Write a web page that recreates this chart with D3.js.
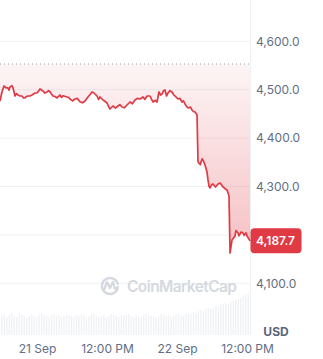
<!DOCTYPE html>
<html>
<head>
<meta charset="utf-8">
<script src="https://cdn.jsdelivr.net/npm/d3@7"></script>
<style>
  html, body { margin: 0; padding: 0; background: #fff; }
  svg { display: block; font-family: Inter, "Noto Sans", sans-serif; }
</style>
</head>
<body>
<svg id="chart" width="323" height="359"></svg>
<script>
// hours after 21 Sep 00:00 (local) and price in USD
const hours = [
  -6.34, -6.0, -5.66, -5.31, -4.97, -4.8, -4.63, -4.29, -4.11, -3.77,
  -3.5, -3.26, -2.91, -2.57, -2.3, -2.06, -1.8, -1.54, -1.2, -0.86,
  -0.34, 0, 0.25, 0.51, 1.03, 1.35, 1.71, 2.0, 2.23, 2.74,
  3.1, 3.43, 3.94, 4.2, 4.46, 5.14, 5.4, 5.66, 6.1, 6.51,
  6.9, 7.37, 7.8, 8.23, 8.74, 9.1, 9.43, 9.77, 10.29, 10.55,
  10.8, 11.31, 11.65, 12, 12.25, 12.51, 13.03, 13.45, 13.89, 14.2,
  14.57, 15.0, 15.43, 15.94, 16.35, 16.8, 17.2, 17.66, 18.17, 18.5,
  18.86, 19.37, 19.6, 19.89, 20.25, 20.57, 20.91, 21.2, 21.43, 21.7,
  21.94, 22.2, 22.46, 22.8, 23.14, 23.4, 23.66, 24.17, 24.5, 24.86,
  25.1, 25.37, 25.6, 25.89, 26.3, 26.57, 26.8, 27.09, 27.43, 27.6,
  28.0, 28.11, 28.3, 28.46, 28.8, 29.14, 29.31, 29.5, 29.66, 29.9,
  30.17, 30.6, 31.03, 31.4, 31.89, 32.2, 32.57, 32.91, 33.09, 33.43,
  33.94, 34.1, 34.46, 34.6, 34.8, 35.0, 35.31, 35.5, 35.66, 35.85,
  36, 36.25, 36.51
]
const prices = [
  4476.7, 4495.3, 4507.7, 4503.6, 4503.6, 4499, 4505.6, 4508.3, 4503.6, 4487,
  4492, 4489, 4487, 4487, 4483, 4482.9, 4486, 4487, 4487, 4489,
  4493.2, 4493.2, 4497, 4501.5, 4497.3, 4493, 4495.3, 4498, 4495.3, 4487,
  4486, 4482.9, 4489, 4484, 4487.6, 4484.9, 4484, 4480.8, 4477, 4480.8,
  4482, 4475.2, 4473, 4476.7, 4484.9, 4490, 4495.3, 4493.2, 4487, 4480,
  4484.9, 4478.7, 4476, 4472.5, 4466, 4460.1, 4466.3, 4462, 4466.3, 4469,
  4464.3, 4463, 4468.4, 4474.6, 4471, 4478.7, 4482, 4480.8, 4484.9, 4480,
  4487, 4487, 4481, 4474.6, 4478, 4474.6, 4495.3, 4489, 4491.1, 4498,
  4499.4, 4487, 4493.2, 4498, 4495.3, 4490, 4487, 4480.8, 4482, 4474.6,
  4477, 4470.5, 4466, 4462.2, 4464, 4458.1, 4455, 4453.9, 4447.7, 4350.6,
  4345, 4350.6, 4357, 4354.8, 4344.4, 4330, 4313.5, 4300, 4297, 4303,
  4305.2, 4299, 4305.2, 4307, 4299, 4296, 4292.8, 4280.4, 4162.6, 4189.5,
  4197.7, 4209, 4203.9, 4198, 4201.9, 4206, 4203.9, 4199, 4201.9, 4204,
  4197.7, 4193, 4187.5
]
const lastPrice = 4187.7
const openPrice = 4553.1

// trading volume (arbitrary units), one bar per slice of the range
const volumes = [
  19, 21, 18, 20, 22, 19, 18, 21, 20, 19, 17, 20, 21, 19, 18, 20, 22, 20, 19, 18,
  20, 21, 19, 20, 18, 19, 21, 20, 19, 18, 20, 19, 21, 20, 18, 19, 20, 21, 19, 18,
  19, 20, 18, 19, 21, 20, 19, 18, 20, 19, 20, 21, 19, 18, 20, 19, 18, 20, 21, 19,
  20, 19, 18, 19, 21, 20, 19, 20, 18, 19, 20, 21, 20, 19, 21, 22, 21, 23, 22, 24,
  25, 24, 26, 27, 26, 28, 29, 28, 30, 31, 32, 31, 33, 34, 35, 36, 37, 39, 40, 42
]

const priceTicks = [4100, 4200, 4300, 4400, 4500, 4600]
const timeTicks = [0, 12, 24, 36]
const timeLabels = ['21 Sep', '12:00 PM', '22 Sep', '12:00 PM']

const red = '#e03a45'
const svg = d3.select('#chart')
const plotRight = 250

const t0 = new Date(2025, 8, 21, 0, 0)
const toDate = h => new Date(t0.getTime() + h * 3600e3)
const data = hours.map((h, i) => ({ t: toDate(h), p: prices[i] }))

let x = d3.scaleTime()
  .domain([toDate(-6.34), toDate(36.51)])
  .range([0, plotRight])
let y = d3.scaleLinear()
  .domain([4100, 4600])
  .range([283.3, 41.3])

// gridlines
svg.append('g')
  .selectAll('line')
  .data(priceTicks)
  .join('line')
    .attr('x1', 0)
    .attr('x2', plotRight)
    .attr('y1', d => y(d))
    .attr('y2', d => y(d))
    .attr('stroke', '#eff2f5')

// volume bars
let vx = d3.scaleBand().domain(d3.range(volumes.length)).range([0, plotRight]).padding(0.45)
let vy = d3.scaleLinear().domain([0, 42]).range([335, 293])
svg.append('g')
  .selectAll('rect')
  .data(volumes)
  .join('rect')
    .attr('x', (d, i) => vx(i))
    .attr('width', vx.bandwidth())
    .attr('y', d => vy(d))
    .attr('height', d => vy(0) - vy(d))
    .attr('fill', '#f0f2f5')

// plot border on the right
svg.append('line')
  .attr('x1', plotRight + 0.5).attr('x2', plotRight + 0.5)
  .attr('y1', 0).attr('y2', 335)
  .attr('stroke', '#eff2f5')

// fill between price line and the opening baseline
let grad = svg.append('defs').append('linearGradient')
  .attr('id', 'fillGrad')
  .attr('gradientUnits', 'userSpaceOnUse')
  .attr('x1', 0).attr('x2', 0)
  .attr('y1', y(openPrice)).attr('y2', y(d3.min(prices)))
grad.append('stop').attr('offset', 0).attr('stop-color', red).attr('stop-opacity', 0.05)
grad.append('stop').attr('offset', 1).attr('stop-color', red).attr('stop-opacity', 0.32)

svg.append('path')
  .datum(data)
  .attr('fill', 'url(#fillGrad)')
  .attr('d', d3.area()
    .x(d => x(d.t))
    .y0(y(openPrice))
    .y1(d => y(d.p)))

// baseline (opening price)
svg.append('line')
  .attr('x1', 0).attr('x2', plotRight)
  .attr('y1', y(openPrice)).attr('y2', y(openPrice))
  .attr('stroke', '#9aa3b2')
  .attr('stroke-width', 1)
  .attr('stroke-dasharray', '1 3')

// watermark
let wm = svg.append('g').attr('fill', 'none').attr('stroke', '#d5d9df')
wm.append('path')
  .attr('stroke-width', 2.4)
  .attr('d', d3.arc()({ innerRadius: 8, outerRadius: 8, startAngle: 0.55 * Math.PI, endAngle: 2.45 * Math.PI }))
  .attr('transform', 'translate(110,286)')
wm.append('path')
  .attr('stroke-width', 2.2)
  .attr('stroke-linejoin', 'round')
  .attr('stroke-linecap', 'round')
  .attr('d', 'M104,290 L107,282 L110,288 L113,282 L115,289 L118,287')
svg.append('text')
  .attr('x', 127)
  .attr('y', 292)
  .attr('font-size', 15.5)
  .attr('font-weight', 600)
  .attr('fill', '#d5d9df')
  .attr('textLength', 110)
  .text('CoinMarketCap')

// price line
svg.append('path')
  .datum(data)
  .attr('fill', 'none')
  .attr('stroke', red)
  .attr('stroke-width', 1.7)
  .attr('stroke-linejoin', 'round')
  .attr('d', d3.line().x(d => x(d.t)).y(d => y(d.p)))

// y labels (the 4,200 one sits under the price badge)
let fmt = d3.format(',.1f')
svg.append('g')
  .selectAll('text')
  .data(priceTicks.filter(d => Math.abs(d - lastPrice) > 30))
  .join('text')
    .attr('x', 256)
    .attr('y', d => y(d))
    .attr('dy', '0.35em')
    .attr('font-size', 12)
    .attr('fill', '#616e85')
    .text(d => fmt(d))

// current price badge
let badge = svg.append('g').attr('transform', `translate(250,${y(lastPrice)})`)
badge.append('rect')
  .attr('x', 0.5).attr('y', -12.5)
  .attr('width', 51).attr('height', 25)
  .attr('rx', 4)
  .attr('fill', red)
badge.append('text')
  .attr('x', 6)
  .attr('dy', '0.36em')
  .attr('font-size', 12)
  .attr('font-weight', 600)
  .attr('fill', '#fff')
  .text(fmt(lastPrice))

// currency
svg.append('text')
  .attr('x', 276)
  .attr('y', 332)
  .attr('dy', '0.35em')
  .attr('text-anchor', 'middle')
  .attr('font-size', 12)
  .attr('font-weight', 700)
  .attr('fill', '#58667e')
  .text('USD')

// time axis
let xAxis = d3.axisBottom(x)
  .tickValues(timeTicks.map(toDate))
  .tickFormat((d, i) => timeLabels[i])
  .tickSize(0)
  .tickPadding(0)
let ax = svg.append('g')
  .attr('transform', 'translate(0,344)')
  .call(xAxis)
ax.select('.domain').remove()
ax.selectAll('text')
  .attr('font-family', 'Inter, "Noto Sans", sans-serif')
  .attr('font-size', 12)
  .attr('fill', '#616e85')
</script>
</body>
</html>
